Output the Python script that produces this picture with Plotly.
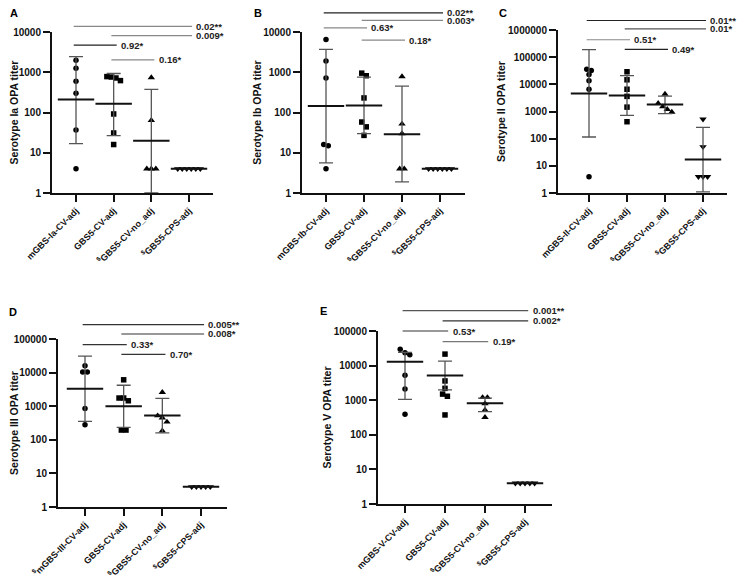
import numpy as np
import plotly.graph_objects as go

W, H = 748, 580
OFF = 8  # the page body margin moves the figure by 8px
FW, FH = W - OFF, H - OFF

# ---- data (titers) ----
labels_A = ["mGBS-Ia-CV-adj", "GBS5-CV-adj", "<sup>$</sup>GBS5-CV-no_adj", "<sup>$</sup>GBS5-CPS-adj"]
titers_A = [[2000, 1250, 600, 300, 37, 4],
            [780, 760, 720, 620, 92, 31, 16],
            [740, 64, 4, 4, 4],
            [4, 4, 4, 4, 4, 4]]
gmt_A = [210, 165, 20, 4]
upper_A = [2450, 930, 376, 4]
lower_A = [16.8, 26.6, 1.0, 4]
pvals_A = [(0, 3, 13800, "0.02", "**"), (1, 3, 8100, "0.009", "*"),
           (0, 1, 4700, "0.92", "*"), (1, 2, 2040, "0.16", "*")]

labels_B = ["mGBS-Ib-CV-adj", "GBS5-CV-adj", "<sup>$</sup>GBS5-CV-no_adj", "<sup>$</sup>GBS5-CPS-adj"]
titers_B = [[6500, 1900, 720, 16, 15, 4],
            [950, 820, 230, 58, 44, 27],
            [780, 52, 30, 4, 4],
            [4, 4, 4, 4, 4, 4]]
gmt_B = [146, 150, 29, 4]
upper_B = [3700, 760, 450, 4]
lower_B = [5.6, 30, 1.9, 4]
pvals_B = [(0, 3, 29900, "0.02", "**"), (1, 3, 19400, "0.003", "*"),
           (0, 1, 12600, "0.63", "*"), (1, 2, 6300, "0.18", "*")]

labels_C = ["mGBS-II-CV-adj", "GBS5-CV-adj", "<sup>$</sup>GBS5-CV-no_adj", "<sup>$</sup>GBS5-CPS-adj"]
titers_C = [[36000, 32000, 23000, 13500, 6600, 4],
            [29000, 14700, 6600, 3600, 1450, 420],
            [4400, 2000, 1500, 1200, 950],
            [520, 50, 4, 4, 4]]
gmt_C = [4600, 3900, 1800, 17]
upper_C = [190000, 21000, 3700, 260]
lower_C = [115, 720, 830, 1.1]
pvals_C = [(0, 3, 2240000, "0.01", "**"), (1, 3, 1100000, "0.01", "*"),
           (0, 1, 437000, "0.51", "*"), (1, 2, 195000, "0.49", "*")]

labels_D = ["<sup>$</sup>mGBS-III-CV-adj", "GBS5-CV-adj", "<sup>$</sup>GBS5-CV-no_adj", "<sup>$</sup>GBS5-CPS-adj"]
titers_D = [[16000, 10500, 10500, 850, 280],
            [6100, 1750, 1750, 1450, 195, 195],
            [2600, 520, 450, 340, 185],
            [4, 4, 4, 4, 4]]
gmt_D = [3300, 1000, 530, 4]
upper_D = [31000, 4200, 1700, 4]
lower_D = [355, 235, 160, 4]
pvals_D = [(0, 3, 269000, "0.005", "**"), (1, 3, 141000, "0.008", "*"),
           (0, 1, 67600, "0.33", "*"), (1, 2, 34700, "0.70", "*")]

labels_E = ["mGBS-V-CV-adj", "GBS5-CV-adj", "<sup>$</sup>GBS5-CV-no_adj", "<sup>$</sup>GBS5-CPS-adj"]
titers_E = [[29500, 23500, 20500, 5300, 2100, 390],
            [21500, 3600, 2200, 1500, 1300, 375],
            [1200, 1200, 800, 520, 320],
            [4, 4, 4, 4, 4]]
gmt_E = [13000, 5200, 810, 4]
upper_E = [24000, 13500, 1150, 4]
lower_E = [1060, 2000, 470, 4]
pvals_E = [(0, 3, 389000, "0.001", "**"), (1, 3, 195000, "0.002", "*"),
           (0, 1, 100000, "0.53", "*"), (1, 2, 49000, "0.19", "*")]

# ---- layout of the panels, in pixels of the 748x580 picture ----
# letter, y title, left, right, first cat, last cat, px of 1, px of top tick, top decade, letter pos
panels = [
    ("A", "Serotype Ia OPA titer", 52, 213, 76, 189, 193, 32, 4, (8, 13),
     labels_A, titers_A, gmt_A, upper_A, lower_A, pvals_A, ["#888", "#888", "#222", "#888"]),
    ("B", "Serotype Ib OPA titer", 302, 465, 326, 440, 193, 32, 4, (252, 13),
     labels_B, titers_B, gmt_B, upper_B, lower_B, pvals_B, ["#222", "#888", "#888", "#888"]),
    ("C", "Serotype II OPA titer", 558, 727, 589, 703, 193, 30, 6, (497, 13),
     labels_C, titers_C, gmt_C, upper_C, lower_C, pvals_C, ["#222", "#555", "#888", "#222"]),
    ("D", "Serotype III OPA titer", 58, 227, 85, 201, 507, 339, 5, (7, 312),
     labels_D, titers_D, gmt_D, upper_D, lower_D, pvals_D, ["#333", "#333", "#333", "#333"]),
    ("E", "Serotype V OPA titer", 378, 552, 405, 525, 504, 331, 5, (318, 311),
     labels_E, titers_E, gmt_E, upper_E, lower_E, pvals_E, ["#555", "#333", "#333", "#777"]),
]

symbols = ["circle", "square", "triangle-up", "triangle-down"]
FONT = "Liberation Sans"


def px_x(px):
    return (px - OFF) / FW


def px_y(py):
    return 1 - (py - OFF) / FH


def swarm(vals, step=0.12, tol=0.13):
    # spread points that would overlap, like the prism scatter dot plot
    logs = np.log10(vals)
    order = np.argsort(-logs)
    offs = np.zeros(len(vals))
    clusters = []
    for idx in order:
        if clusters and abs(logs[clusters[-1][-1]] - logs[idx]) < tol:
            clusters[-1].append(idx)
        else:
            clusters.append([idx])
    for c in clusters:
        n = len(c)
        for k, idx in enumerate(c):
            offs[idx] = (k - (n - 1) / 2) * step
    return offs


fig = go.Figure()
layout = {}

for n, (letter, ytitle, left, right, c0, c3, ybot, ytop, dec, lpos,
        labels, titers, gmt, upper, lower, pvals, pcolors) in enumerate(panels, start=1):
    sfx = "" if n == 1 else str(n)
    xa, ya = "x" + sfx, "y" + sfx
    step = (c3 - c0) / 3
    xr = [-(c0 - left) / step, 3 + (right - c3) / step]

    for g, vals in enumerate(titers):
        offs = swarm(vals)
        fig.add_trace(go.Scatter(
            x=g + offs, y=vals, mode="markers", xaxis=xa, yaxis=ya,
            marker=dict(symbol=symbols[g], size=5.5 if g < 2 else 6.5, color="black"),
            cliponaxis=False, hoverinfo="y",
        ))

    cats = np.arange(4)
    gm = np.array(gmt, dtype=float)
    fig.add_trace(go.Scatter(
        x=cats, y=gm, mode="markers", xaxis=xa, yaxis=ya,
        marker=dict(symbol="line-ew", size=26, line=dict(width=2, color="#111")),
        error_y=dict(type="data", symmetric=False,
                     array=np.array(upper) - gm, arrayminus=gm - np.array(lower),
                     color="#555", thickness=1.3, width=7),
    ))

    # comparison lines: x on the category axis, height as a fraction of the log axis
    for k, (i, j, lvl, p, stars) in enumerate(pvals):
        yd = np.log10(lvl) / dec
        fig.add_shape(type="line", xref=xa, yref=ya + " domain",
                      x0=i - 0.06, x1=j + 0.08, y0=yd, y1=yd,
                      line=dict(color=pcolors[k], width=1.2))
        fig.add_annotation(x=j + 0.14, y=yd, xref=xa, yref=ya + " domain", showarrow=False,
                           text=f"{p}{stars}", xanchor="left", yanchor="middle",
                           font=dict(family=FONT, size=9.5, color="#222", weight="bold"))

    fig.add_annotation(x=px_x(lpos[0]), y=px_y(lpos[1]), xref="paper", yref="paper",
                       text=letter, showarrow=False, xanchor="left", yanchor="middle",
                       font=dict(family=FONT, size=11, color="black", weight="bold"))

    layout["xaxis" + sfx] = dict(
        domain=[px_x(left), px_x(right)], range=xr, anchor=ya,
        tickvals=list(cats), ticktext=labels, tickangle=-45,
        ticks="outside", ticklen=7, tickwidth=2, tickcolor="#111",
        showline=True, linewidth=2, linecolor="#111",
        showgrid=False, zeroline=False, automargin=False,
        tickfont=dict(family=FONT, size=9, color="#111", weight="bold"),
    )
    tv = [10 ** k for k in range(dec + 1)]
    layout["yaxis" + sfx] = dict(
        domain=[px_y(ybot), px_y(ytop)], type="log", range=[0, dec], anchor=xa,
        tickvals=tv, ticktext=[str(v) for v in tv],
        ticks="outside", ticklen=7, tickwidth=2, tickcolor="#111",
        showline=True, linewidth=2, linecolor="#111",
        showgrid=False, zeroline=False, automargin=False,
        tickfont=dict(family=FONT, size=10, color="#111", weight="bold"),
        title=dict(text=ytitle, standoff=0,
                   font=dict(family=FONT, size=10.5, color="#111", weight="bold")),
    )

fig.update_layout(
    width=FW, height=FH, margin=dict(l=0, r=0, t=0, b=0),
    paper_bgcolor="white", plot_bgcolor="white", showlegend=False,
    **layout,
)

fig.write_html("out.html")
